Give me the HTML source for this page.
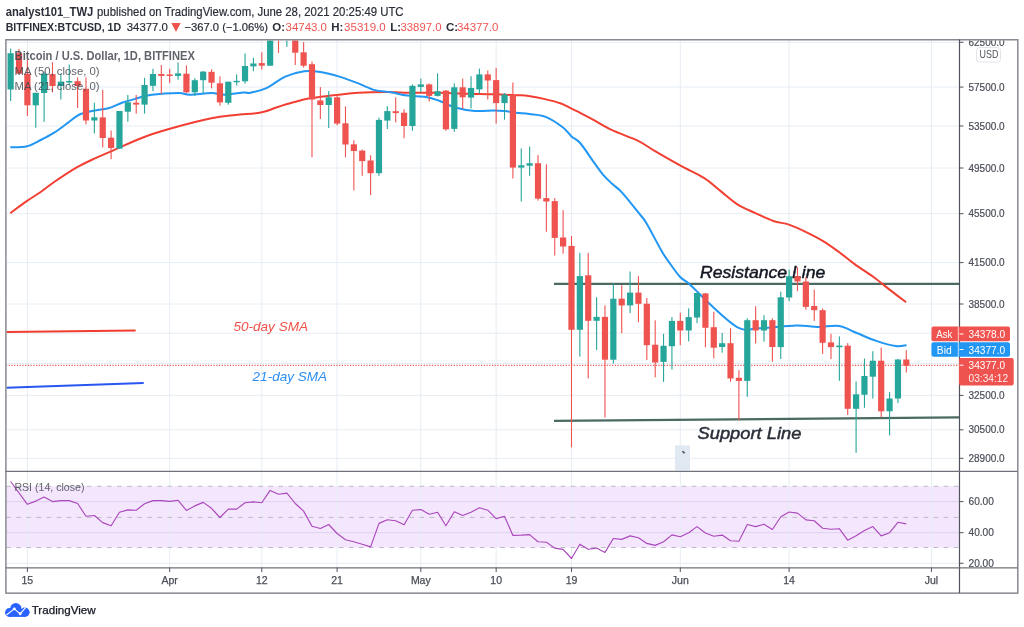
<!DOCTYPE html>
<html><head><meta charset="utf-8"><title>BTCUSD chart</title>
<style>html,body{margin:0;padding:0;background:#fff;width:1024px;height:627px;overflow:hidden;position:relative;font-family:"Liberation Sans",sans-serif;}</style>
</head><body>
<svg width="1024" height="627" viewBox="0 0 1024 627" style="position:absolute;left:0;top:0;will-change:transform;font-family:'Liberation Sans',sans-serif">
<defs><clipPath id="main"><rect x="6.5" y="40.5" width="952.5" height="430.3"/></clipPath><clipPath id="rsi"><rect x="6.5" y="472" width="952.5" height="95"/></clipPath><clipPath id="axis"><rect x="960" y="40.5" width="57" height="530"/></clipPath></defs>
<rect x="0" y="0" width="1024" height="627" fill="#ffffff"/>
<rect x="6" y="486.3" width="953" height="61.2" fill="#f4e7fd"/>
<line x1="6" y1="42.3" x2="959" y2="42.3" stroke="#e6edf4" stroke-width="1"/>
<line x1="6" y1="87.1" x2="959" y2="87.1" stroke="#e6edf4" stroke-width="1"/>
<line x1="6" y1="126.0" x2="959" y2="126.0" stroke="#e6edf4" stroke-width="1"/>
<line x1="6" y1="168.0" x2="959" y2="168.0" stroke="#e6edf4" stroke-width="1"/>
<line x1="6" y1="213.7" x2="959" y2="213.7" stroke="#e6edf4" stroke-width="1"/>
<line x1="6" y1="262.6" x2="959" y2="262.6" stroke="#e6edf4" stroke-width="1"/>
<line x1="6" y1="304.0" x2="959" y2="304.0" stroke="#e6edf4" stroke-width="1"/>
<line x1="6" y1="333.2" x2="959" y2="333.2" stroke="#e6edf4" stroke-width="1"/>
<line x1="6" y1="363.6" x2="959" y2="363.6" stroke="#e6edf4" stroke-width="1"/>
<line x1="6" y1="395.4" x2="959" y2="395.4" stroke="#e6edf4" stroke-width="1"/>
<line x1="6" y1="429.8" x2="959" y2="429.8" stroke="#e6edf4" stroke-width="1"/>
<line x1="6" y1="458.3" x2="959" y2="458.3" stroke="#e6edf4" stroke-width="1"/>
<line x1="6" y1="501.6" x2="959" y2="501.6" stroke="#e2d4f3" stroke-width="1.2"/>
<line x1="6" y1="532.7" x2="959" y2="532.7" stroke="#e2d4f3" stroke-width="1.2"/>
<line x1="6" y1="563.3" x2="959" y2="563.3" stroke="#e6edf4" stroke-width="1"/>
<line x1="27.39" y1="40" x2="27.39" y2="567.5" stroke="#e6edf4" stroke-width="1"/>
<line x1="169.69" y1="40" x2="169.69" y2="567.5" stroke="#e6edf4" stroke-width="1"/>
<line x1="261.77" y1="40" x2="261.77" y2="567.5" stroke="#e6edf4" stroke-width="1"/>
<line x1="337.11" y1="40" x2="337.11" y2="567.5" stroke="#e6edf4" stroke-width="1"/>
<line x1="420.81" y1="40" x2="420.81" y2="567.5" stroke="#e6edf4" stroke-width="1"/>
<line x1="496.15" y1="40" x2="496.15" y2="567.5" stroke="#e6edf4" stroke-width="1"/>
<line x1="571.49" y1="40" x2="571.49" y2="567.5" stroke="#e6edf4" stroke-width="1"/>
<line x1="680.3" y1="40" x2="680.3" y2="567.5" stroke="#e6edf4" stroke-width="1"/>
<line x1="789.12" y1="40" x2="789.12" y2="567.5" stroke="#e6edf4" stroke-width="1"/>
<line x1="931.43" y1="40" x2="931.43" y2="567.5" stroke="#e6edf4" stroke-width="1"/>
<line x1="6.2" y1="486.3" x2="959" y2="486.3" stroke="#bdb9c6" stroke-width="1" stroke-dasharray="4.7,5.38"/>
<line x1="6.2" y1="517.4" x2="959" y2="517.4" stroke="#bdb9c6" stroke-width="1" stroke-dasharray="4.7,5.38"/>
<line x1="6.2" y1="547.5" x2="959" y2="547.5" stroke="#bdb9c6" stroke-width="1" stroke-dasharray="4.7,5.38"/>
<g clip-path="url(#main)">
<line x1="6" y1="331.9" x2="135.6" y2="330.6" stroke="#f23c2e" stroke-width="2"/>
<line x1="6" y1="387.7" x2="143.7" y2="383" stroke="#2756f0" stroke-width="2"/>
<text x="233.4" y="330.7" font-size="13" font-style="italic" fill="#f0514a" textLength="74.7" lengthAdjust="spacingAndGlyphs">50-day SMA</text>
<text x="252.6" y="380.9" font-size="13" font-style="italic" fill="#2b8ff0" textLength="74.4" lengthAdjust="spacingAndGlyphs">21-day SMA</text>
<text x="700" y="278.4" font-size="17" font-style="italic" fill="#131722" stroke="#131722" stroke-width="0.45" textLength="125.4" lengthAdjust="spacingAndGlyphs">Resistance Line</text>
<text x="697.5" y="438.9" font-size="17" font-style="italic" fill="#2a2e39" stroke="#2a2e39" stroke-width="0.45" textLength="103.9" lengthAdjust="spacingAndGlyphs">Support Line</text>
<line x1="554" y1="283.9" x2="959" y2="283.9" stroke="#4a6a61" stroke-width="2.2"/>
<line x1="554" y1="420.9" x2="959" y2="417.4" stroke="#4a6a61" stroke-width="2.2"/>
<line x1="6" y1="365.4" x2="959" y2="365.4" stroke="#ef5350" stroke-width="1.1" stroke-dasharray="1.2,1.53"/>
<rect x="675" y="445.5" width="15" height="25" fill="#e0e8f1"/>
<path d="M682.3,451.5 l1.6,0.6 l0.2,1.4" stroke="#222" stroke-width="1.2" fill="none"/>
<path d="M10.30,213.10 C13.10,211.07 22.03,204.42 27.10,200.90 C32.17,197.38 36.18,195.15 40.70,192.00 C45.22,188.85 48.33,186.02 54.20,182.00 C60.07,177.98 69.12,171.83 75.90,167.90 C82.68,163.97 88.13,161.57 94.90,158.40 C101.67,155.23 108.38,152.43 116.50,148.90 C124.62,145.37 134.12,140.72 143.60,137.20 C153.08,133.68 162.10,130.95 173.40,127.80 C184.70,124.65 201.00,120.43 211.40,118.30 C221.80,116.17 227.57,115.95 235.80,115.00 C244.03,114.05 253.92,113.90 260.80,112.60 C267.68,111.30 271.67,108.92 277.10,107.20 C282.53,105.48 287.98,103.78 293.40,102.30 C298.82,100.82 303.28,99.42 309.60,98.30 C315.92,97.18 323.17,96.52 331.30,95.60 C339.43,94.68 349.37,93.40 358.40,92.80 C367.43,92.20 376.47,92.00 385.50,92.00 C394.53,92.00 403.57,92.67 412.60,92.80 C421.63,92.93 430.67,92.65 439.70,92.80 C448.73,92.95 457.77,93.47 466.80,93.70 C475.83,93.93 485.67,93.95 493.90,94.20 C502.13,94.45 510.43,94.92 516.20,95.20 C521.97,95.48 523.68,95.25 528.50,95.90 C533.32,96.55 539.68,97.83 545.10,99.10 C550.52,100.37 556.60,101.90 561.00,103.50 C565.40,105.10 568.28,107.15 571.50,108.70 C574.72,110.25 576.72,110.98 580.30,112.80 C583.88,114.62 587.70,116.70 593.00,119.60 C598.30,122.50 604.65,126.70 612.10,130.20 C619.55,133.70 630.68,137.20 637.70,140.60 C644.72,144.00 647.07,146.43 654.20,150.60 C661.33,154.77 672.22,161.05 680.50,165.60 C688.78,170.15 697.20,173.65 703.90,177.90 C710.60,182.15 715.12,186.70 720.70,191.10 C726.28,195.50 731.62,200.63 737.40,204.30 C743.18,207.97 749.42,210.32 755.40,213.10 C761.38,215.88 767.72,219.08 773.30,221.00 C778.88,222.92 783.52,222.80 788.90,224.60 C794.28,226.40 799.83,229.02 805.60,231.80 C811.37,234.58 817.93,237.93 823.50,241.30 C829.07,244.67 833.82,248.20 839.00,252.00 C844.18,255.80 848.80,259.90 854.60,264.10 C860.40,268.30 867.82,272.82 873.80,277.20 C879.78,281.58 885.12,286.22 890.50,290.40 C895.88,294.58 903.50,300.32 906.10,302.30" fill="none" stroke="#f23f33" stroke-width="2" stroke-linejoin="round"/>
<path d="M10.30,147.30 C13.10,147.12 22.03,147.42 27.10,146.20 C32.17,144.98 36.18,142.27 40.70,140.00 C45.22,137.73 49.68,135.45 54.20,132.60 C58.72,129.75 63.73,125.83 67.80,122.90 C71.87,119.97 74.55,116.98 78.60,115.00 C82.65,113.02 87.13,112.13 92.10,111.00 C97.07,109.87 103.42,109.57 108.40,108.20 C113.38,106.83 117.48,104.37 122.00,102.80 C126.52,101.23 130.53,100.15 135.50,98.80 C140.47,97.45 144.57,95.65 151.80,94.70 C159.03,93.75 172.58,93.10 178.90,93.10 C185.22,93.10 184.28,94.70 189.70,94.70 C195.12,94.70 205.53,93.10 211.40,93.10 C217.27,93.10 219.48,94.80 224.90,94.70 C230.32,94.60 239.72,92.82 243.90,92.50 C248.08,92.18 246.27,93.52 250.00,92.80 C253.73,92.08 260.43,90.90 266.30,88.20 C272.17,85.50 278.88,79.43 285.20,76.60 C291.52,73.77 298.32,71.97 304.20,71.20 C310.08,70.43 314.63,71.10 320.50,72.00 C326.37,72.90 333.08,74.70 339.40,76.60 C345.72,78.50 352.52,81.15 358.40,83.40 C364.28,85.65 369.28,88.62 374.70,90.10 C380.12,91.58 385.48,91.38 390.90,92.30 C396.32,93.22 401.32,94.83 407.20,95.60 C413.08,96.37 420.78,96.00 426.20,96.90 C431.62,97.80 434.73,99.18 439.70,101.00 C444.67,102.82 450.13,106.13 456.00,107.80 C461.87,109.47 468.58,110.55 474.90,111.00 C481.22,111.45 488.93,110.50 493.90,110.50 C498.87,110.50 500.98,110.62 504.70,111.00 C508.42,111.38 512.10,112.30 516.20,112.80 C520.30,113.30 524.48,113.37 529.30,114.00 C534.12,114.63 539.53,114.40 545.10,116.60 C550.67,118.80 558.30,123.90 562.70,127.20 C567.10,130.50 568.58,133.77 571.50,136.40 C574.42,139.03 576.37,138.53 580.20,143.00 C584.03,147.47 590.67,157.88 594.50,163.20 C598.33,168.52 600.27,171.47 603.20,174.90 C606.13,178.33 608.92,180.82 612.10,183.80 C615.28,186.78 617.83,187.90 622.30,192.80 C626.77,197.70 634.85,208.10 638.90,213.20 C642.95,218.30 642.77,217.02 646.60,223.40 C650.43,229.78 658.07,244.90 661.90,251.50 C665.73,258.10 666.60,258.80 669.60,263.00 C672.60,267.20 676.72,273.30 679.90,276.70 C683.08,280.10 685.37,280.48 688.70,283.40 C692.03,286.32 696.72,291.07 699.90,294.20 C703.08,297.33 701.43,296.63 707.80,302.20 C714.17,307.77 729.57,323.25 738.10,327.60 C746.63,331.95 749.32,328.63 759.00,328.30 C768.68,327.97 786.42,325.82 796.20,325.60 C805.98,325.38 810.55,326.93 817.70,327.00 C824.85,327.07 832.60,325.00 839.10,326.00 C845.60,327.00 850.50,330.52 856.70,333.00 C862.90,335.48 869.78,338.72 876.30,340.90 C882.82,343.08 890.77,345.38 895.80,346.10 C900.83,346.82 904.72,345.35 906.50,345.20" fill="none" stroke="#2196f3" stroke-width="2" stroke-linejoin="round"/>
<rect x="10.10" y="48.6" width="1.1" height="52.4" fill="#26a69a"/>
<rect x="7.55" y="53.2" width="6.2" height="36.3" fill="#26a69a"/>
<rect x="18.47" y="48.9" width="1.1" height="25.1" fill="#ef5350"/>
<rect x="15.92" y="53.2" width="6.2" height="20.5" fill="#ef5350"/>
<rect x="26.84" y="60.0" width="1.1" height="56.0" fill="#ef5350"/>
<rect x="24.29" y="73.7" width="6.2" height="31.6" fill="#ef5350"/>
<rect x="35.21" y="92.8" width="1.1" height="35.0" fill="#26a69a"/>
<rect x="32.66" y="92.8" width="6.2" height="12.5" fill="#26a69a"/>
<rect x="43.58" y="71.6" width="1.1" height="50.2" fill="#26a69a"/>
<rect x="41.03" y="73.7" width="6.2" height="19.3" fill="#26a69a"/>
<rect x="51.95" y="62.2" width="1.1" height="30.2" fill="#ef5350"/>
<rect x="49.40" y="74.1" width="6.2" height="11.9" fill="#ef5350"/>
<rect x="60.32" y="73.7" width="1.1" height="25.8" fill="#26a69a"/>
<rect x="57.77" y="81.6" width="6.2" height="4.4" fill="#26a69a"/>
<rect x="68.69" y="64.5" width="1.1" height="20.5" fill="#26a69a"/>
<rect x="66.14" y="81.0" width="6.2" height="1.5" fill="#26a69a"/>
<rect x="77.06" y="77.4" width="1.1" height="30.6" fill="#ef5350"/>
<rect x="74.51" y="81.2" width="6.2" height="4.8" fill="#ef5350"/>
<rect x="85.43" y="77.4" width="1.1" height="46.9" fill="#ef5350"/>
<rect x="82.88" y="88.8" width="6.2" height="31.7" fill="#ef5350"/>
<rect x="93.81" y="102.7" width="1.1" height="30.8" fill="#26a69a"/>
<rect x="91.26" y="117.3" width="6.2" height="3.2" fill="#26a69a"/>
<rect x="102.18" y="89.8" width="1.1" height="57.5" fill="#ef5350"/>
<rect x="99.63" y="117.4" width="6.2" height="20.6" fill="#ef5350"/>
<rect x="110.55" y="130.5" width="1.1" height="28.7" fill="#ef5350"/>
<rect x="108.00" y="137.7" width="6.2" height="10.3" fill="#ef5350"/>
<rect x="118.92" y="111.0" width="1.1" height="37.7" fill="#26a69a"/>
<rect x="116.37" y="111.0" width="6.2" height="37.7" fill="#26a69a"/>
<rect x="127.29" y="95.0" width="1.1" height="26.8" fill="#26a69a"/>
<rect x="124.74" y="102.3" width="6.2" height="9.4" fill="#26a69a"/>
<rect x="135.66" y="95.0" width="1.1" height="18.6" fill="#ef5350"/>
<rect x="133.11" y="102.7" width="6.2" height="1.9" fill="#ef5350"/>
<rect x="144.03" y="77.8" width="1.1" height="35.8" fill="#26a69a"/>
<rect x="141.48" y="85.0" width="6.2" height="19.6" fill="#26a69a"/>
<rect x="152.40" y="68.8" width="1.1" height="22.4" fill="#26a69a"/>
<rect x="149.85" y="74.0" width="6.2" height="11.8" fill="#26a69a"/>
<rect x="160.77" y="65.0" width="1.1" height="29.0" fill="#ef5350"/>
<rect x="158.22" y="74.0" width="6.2" height="1.9" fill="#ef5350"/>
<rect x="169.14" y="68.8" width="1.1" height="14.2" fill="#ef5350"/>
<rect x="166.59" y="74.5" width="6.2" height="1.5" fill="#ef5350"/>
<rect x="177.51" y="62.5" width="1.1" height="17.2" fill="#26a69a"/>
<rect x="174.96" y="73.4" width="6.2" height="2.5" fill="#26a69a"/>
<rect x="185.88" y="65.4" width="1.1" height="27.8" fill="#ef5350"/>
<rect x="183.33" y="73.7" width="6.2" height="18.6" fill="#ef5350"/>
<rect x="194.25" y="78.3" width="1.1" height="17.8" fill="#26a69a"/>
<rect x="191.70" y="80.2" width="6.2" height="12.1" fill="#26a69a"/>
<rect x="202.62" y="71.0" width="1.1" height="22.2" fill="#26a69a"/>
<rect x="200.07" y="71.6" width="6.2" height="8.6" fill="#26a69a"/>
<rect x="211.00" y="69.3" width="1.1" height="19.1" fill="#ef5350"/>
<rect x="208.45" y="71.8" width="6.2" height="10.9" fill="#ef5350"/>
<rect x="219.37" y="76.4" width="1.1" height="29.3" fill="#ef5350"/>
<rect x="216.82" y="83.3" width="6.2" height="19.1" fill="#ef5350"/>
<rect x="227.74" y="81.7" width="1.1" height="23.0" fill="#26a69a"/>
<rect x="225.19" y="81.7" width="6.2" height="21.1" fill="#26a69a"/>
<rect x="236.11" y="74.4" width="1.1" height="11.2" fill="#26a69a"/>
<rect x="233.56" y="80.8" width="6.2" height="1.5" fill="#26a69a"/>
<rect x="244.48" y="53.4" width="1.1" height="30.2" fill="#26a69a"/>
<rect x="241.93" y="66.0" width="6.2" height="15.3" fill="#26a69a"/>
<rect x="252.85" y="57.8" width="1.1" height="13.4" fill="#26a69a"/>
<rect x="250.30" y="63.5" width="6.2" height="2.9" fill="#26a69a"/>
<rect x="261.22" y="52.3" width="1.1" height="17.2" fill="#ef5350"/>
<rect x="258.67" y="63.1" width="6.2" height="2.6" fill="#ef5350"/>
<rect x="269.59" y="30.0" width="1.1" height="35.7" fill="#26a69a"/>
<rect x="267.04" y="30.0" width="6.2" height="35.7" fill="#26a69a"/>
<rect x="277.96" y="30.0" width="1.1" height="22.9" fill="#ef5350"/>
<rect x="275.41" y="30.0" width="6.2" height="1.5" fill="#ef5350"/>
<rect x="286.33" y="30.0" width="1.1" height="16.8" fill="#26a69a"/>
<rect x="283.78" y="30.0" width="6.2" height="1.5" fill="#26a69a"/>
<rect x="294.70" y="30.0" width="1.1" height="35.0" fill="#ef5350"/>
<rect x="292.15" y="30.0" width="6.2" height="22.7" fill="#ef5350"/>
<rect x="303.07" y="42.1" width="1.1" height="25.5" fill="#ef5350"/>
<rect x="300.52" y="52.3" width="6.2" height="13.4" fill="#ef5350"/>
<rect x="311.44" y="61.5" width="1.1" height="95.8" fill="#ef5350"/>
<rect x="308.89" y="64.2" width="6.2" height="35.3" fill="#ef5350"/>
<rect x="319.81" y="87.1" width="1.1" height="31.9" fill="#ef5350"/>
<rect x="317.26" y="100.4" width="6.2" height="4.6" fill="#ef5350"/>
<rect x="328.19" y="91.0" width="1.1" height="37.0" fill="#26a69a"/>
<rect x="325.64" y="97.3" width="6.2" height="7.7" fill="#26a69a"/>
<rect x="336.56" y="96.0" width="1.1" height="29.3" fill="#ef5350"/>
<rect x="334.01" y="97.3" width="6.2" height="26.3" fill="#ef5350"/>
<rect x="344.93" y="106.4" width="1.1" height="50.9" fill="#ef5350"/>
<rect x="342.38" y="123.3" width="6.2" height="21.2" fill="#ef5350"/>
<rect x="353.30" y="140.3" width="1.1" height="50.1" fill="#ef5350"/>
<rect x="350.75" y="144.3" width="6.2" height="6.7" fill="#ef5350"/>
<rect x="361.67" y="149.6" width="1.1" height="26.2" fill="#ef5350"/>
<rect x="359.12" y="150.6" width="6.2" height="10.5" fill="#ef5350"/>
<rect x="370.04" y="155.3" width="1.1" height="39.7" fill="#ef5350"/>
<rect x="367.49" y="160.5" width="6.2" height="12.7" fill="#ef5350"/>
<rect x="378.41" y="117.6" width="1.1" height="58.2" fill="#26a69a"/>
<rect x="375.86" y="119.9" width="6.2" height="53.3" fill="#26a69a"/>
<rect x="386.78" y="106.2" width="1.1" height="22.8" fill="#26a69a"/>
<rect x="384.23" y="111.1" width="6.2" height="9.5" fill="#26a69a"/>
<rect x="395.15" y="97.3" width="1.1" height="25.1" fill="#ef5350"/>
<rect x="392.60" y="111.2" width="6.2" height="1.9" fill="#ef5350"/>
<rect x="403.52" y="109.2" width="1.1" height="29.0" fill="#ef5350"/>
<rect x="400.97" y="112.7" width="6.2" height="13.3" fill="#ef5350"/>
<rect x="411.89" y="84.4" width="1.1" height="46.4" fill="#26a69a"/>
<rect x="409.34" y="85.8" width="6.2" height="40.2" fill="#26a69a"/>
<rect x="420.26" y="78.7" width="1.1" height="13.6" fill="#26a69a"/>
<rect x="417.71" y="84.4" width="6.2" height="2.5" fill="#26a69a"/>
<rect x="428.63" y="83.4" width="1.1" height="18.2" fill="#ef5350"/>
<rect x="426.08" y="84.4" width="6.2" height="11.5" fill="#ef5350"/>
<rect x="437.00" y="73.4" width="1.1" height="23.2" fill="#26a69a"/>
<rect x="434.45" y="91.2" width="6.2" height="4.7" fill="#26a69a"/>
<rect x="445.37" y="90.0" width="1.1" height="40.8" fill="#ef5350"/>
<rect x="442.82" y="90.6" width="6.2" height="38.7" fill="#ef5350"/>
<rect x="453.75" y="83.4" width="1.1" height="48.4" fill="#26a69a"/>
<rect x="451.20" y="87.3" width="6.2" height="41.6" fill="#26a69a"/>
<rect x="462.12" y="78.7" width="1.1" height="30.1" fill="#ef5350"/>
<rect x="459.57" y="87.3" width="6.2" height="10.0" fill="#ef5350"/>
<rect x="470.49" y="76.2" width="1.1" height="32.2" fill="#26a69a"/>
<rect x="467.94" y="88.0" width="6.2" height="9.6" fill="#26a69a"/>
<rect x="478.86" y="68.6" width="1.1" height="24.9" fill="#26a69a"/>
<rect x="476.31" y="74.4" width="6.2" height="15.0" fill="#26a69a"/>
<rect x="487.23" y="70.5" width="1.1" height="29.0" fill="#ef5350"/>
<rect x="484.68" y="74.4" width="6.2" height="6.1" fill="#ef5350"/>
<rect x="495.60" y="67.9" width="1.1" height="55.7" fill="#ef5350"/>
<rect x="493.05" y="80.1" width="6.2" height="23.0" fill="#ef5350"/>
<rect x="503.97" y="93.0" width="1.1" height="26.7" fill="#26a69a"/>
<rect x="501.42" y="94.5" width="6.2" height="8.6" fill="#26a69a"/>
<rect x="512.34" y="82.5" width="1.1" height="96.0" fill="#ef5350"/>
<rect x="509.79" y="94.9" width="6.2" height="72.7" fill="#ef5350"/>
<rect x="520.71" y="148.4" width="1.1" height="53.1" fill="#26a69a"/>
<rect x="518.16" y="165.3" width="6.2" height="2.3" fill="#26a69a"/>
<rect x="529.08" y="146.5" width="1.1" height="29.3" fill="#26a69a"/>
<rect x="526.53" y="163.2" width="6.2" height="2.5" fill="#26a69a"/>
<rect x="537.45" y="155.1" width="1.1" height="45.5" fill="#ef5350"/>
<rect x="534.90" y="163.2" width="6.2" height="35.5" fill="#ef5350"/>
<rect x="545.82" y="164.3" width="1.1" height="67.5" fill="#ef5350"/>
<rect x="543.27" y="198.1" width="6.2" height="3.4" fill="#ef5350"/>
<rect x="554.19" y="198.1" width="1.1" height="57.4" fill="#ef5350"/>
<rect x="551.64" y="201.1" width="6.2" height="36.8" fill="#ef5350"/>
<rect x="562.56" y="210.1" width="1.1" height="43.5" fill="#ef5350"/>
<rect x="560.01" y="237.5" width="6.2" height="9.0" fill="#ef5350"/>
<rect x="570.94" y="236.0" width="1.1" height="211.3" fill="#ef5350"/>
<rect x="568.39" y="245.9" width="6.2" height="83.9" fill="#ef5350"/>
<rect x="579.31" y="252.8" width="1.1" height="103.8" fill="#26a69a"/>
<rect x="576.76" y="276.1" width="6.2" height="53.7" fill="#26a69a"/>
<rect x="587.68" y="252.8" width="1.1" height="125.5" fill="#ef5350"/>
<rect x="585.13" y="275.3" width="6.2" height="45.5" fill="#ef5350"/>
<rect x="596.05" y="297.2" width="1.1" height="52.9" fill="#26a69a"/>
<rect x="593.50" y="316.9" width="6.2" height="3.9" fill="#26a69a"/>
<rect x="604.42" y="305.4" width="1.1" height="112.2" fill="#ef5350"/>
<rect x="601.87" y="316.9" width="6.2" height="42.8" fill="#ef5350"/>
<rect x="612.79" y="283.4" width="1.1" height="80.1" fill="#26a69a"/>
<rect x="610.24" y="298.7" width="6.2" height="61.0" fill="#26a69a"/>
<rect x="621.16" y="285.3" width="1.1" height="47.9" fill="#ef5350"/>
<rect x="618.61" y="298.7" width="6.2" height="6.7" fill="#ef5350"/>
<rect x="629.53" y="271.5" width="1.1" height="41.6" fill="#26a69a"/>
<rect x="626.98" y="292.6" width="6.2" height="12.8" fill="#26a69a"/>
<rect x="637.90" y="276.2" width="1.1" height="46.0" fill="#ef5350"/>
<rect x="635.35" y="292.6" width="6.2" height="11.2" fill="#ef5350"/>
<rect x="646.27" y="297.9" width="1.1" height="62.1" fill="#ef5350"/>
<rect x="643.72" y="303.7" width="6.2" height="41.5" fill="#ef5350"/>
<rect x="654.64" y="320.3" width="1.1" height="57.0" fill="#ef5350"/>
<rect x="652.09" y="344.7" width="6.2" height="17.8" fill="#ef5350"/>
<rect x="663.01" y="333.8" width="1.1" height="48.1" fill="#26a69a"/>
<rect x="660.46" y="345.8" width="6.2" height="16.1" fill="#26a69a"/>
<rect x="671.38" y="317.1" width="1.1" height="52.4" fill="#26a69a"/>
<rect x="668.83" y="320.9" width="6.2" height="25.3" fill="#26a69a"/>
<rect x="679.75" y="312.7" width="1.1" height="32.5" fill="#ef5350"/>
<rect x="677.20" y="320.9" width="6.2" height="9.6" fill="#ef5350"/>
<rect x="688.13" y="308.3" width="1.1" height="33.1" fill="#26a69a"/>
<rect x="685.58" y="317.1" width="6.2" height="13.4" fill="#26a69a"/>
<rect x="696.50" y="292.6" width="1.1" height="30.6" fill="#26a69a"/>
<rect x="693.95" y="293.0" width="6.2" height="24.5" fill="#26a69a"/>
<rect x="704.87" y="293.0" width="1.1" height="54.3" fill="#ef5350"/>
<rect x="702.32" y="293.4" width="6.2" height="34.4" fill="#ef5350"/>
<rect x="713.24" y="311.8" width="1.1" height="46.5" fill="#ef5350"/>
<rect x="710.69" y="327.2" width="6.2" height="20.5" fill="#ef5350"/>
<rect x="721.61" y="333.0" width="1.1" height="19.7" fill="#26a69a"/>
<rect x="719.06" y="343.2" width="6.2" height="3.8" fill="#26a69a"/>
<rect x="729.98" y="328.2" width="1.1" height="53.7" fill="#ef5350"/>
<rect x="727.43" y="343.2" width="6.2" height="35.3" fill="#ef5350"/>
<rect x="738.35" y="370.2" width="1.1" height="50.1" fill="#ef5350"/>
<rect x="735.80" y="377.8" width="6.2" height="3.1" fill="#ef5350"/>
<rect x="746.72" y="318.3" width="1.1" height="78.4" fill="#26a69a"/>
<rect x="744.17" y="320.2" width="6.2" height="60.7" fill="#26a69a"/>
<rect x="755.09" y="306.2" width="1.1" height="37.3" fill="#ef5350"/>
<rect x="752.54" y="320.2" width="6.2" height="10.3" fill="#ef5350"/>
<rect x="763.46" y="315.2" width="1.1" height="26.4" fill="#26a69a"/>
<rect x="760.91" y="320.2" width="6.2" height="10.3" fill="#26a69a"/>
<rect x="771.83" y="318.3" width="1.1" height="43.4" fill="#ef5350"/>
<rect x="769.28" y="320.2" width="6.2" height="26.8" fill="#ef5350"/>
<rect x="780.20" y="291.7" width="1.1" height="67.3" fill="#26a69a"/>
<rect x="777.65" y="297.3" width="6.2" height="49.8" fill="#26a69a"/>
<rect x="788.57" y="269.6" width="1.1" height="31.6" fill="#26a69a"/>
<rect x="786.02" y="276.2" width="6.2" height="21.3" fill="#26a69a"/>
<rect x="796.94" y="267.3" width="1.1" height="23.7" fill="#ef5350"/>
<rect x="794.39" y="276.3" width="6.2" height="5.2" fill="#ef5350"/>
<rect x="805.32" y="277.2" width="1.1" height="32.6" fill="#ef5350"/>
<rect x="802.77" y="281.5" width="6.2" height="25.4" fill="#ef5350"/>
<rect x="813.69" y="289.7" width="1.1" height="31.2" fill="#ef5350"/>
<rect x="811.14" y="306.0" width="6.2" height="4.2" fill="#ef5350"/>
<rect x="822.06" y="308.3" width="1.1" height="45.6" fill="#ef5350"/>
<rect x="819.51" y="310.2" width="6.2" height="32.6" fill="#ef5350"/>
<rect x="830.43" y="333.8" width="1.1" height="25.3" fill="#ef5350"/>
<rect x="827.88" y="342.4" width="6.2" height="4.7" fill="#ef5350"/>
<rect x="838.80" y="336.4" width="1.1" height="44.4" fill="#26a69a"/>
<rect x="836.25" y="345.6" width="6.2" height="1.6" fill="#26a69a"/>
<rect x="847.17" y="343.1" width="1.1" height="72.0" fill="#ef5350"/>
<rect x="844.62" y="345.7" width="6.2" height="63.1" fill="#ef5350"/>
<rect x="855.54" y="381.5" width="1.1" height="71.3" fill="#26a69a"/>
<rect x="852.99" y="394.3" width="6.2" height="14.5" fill="#26a69a"/>
<rect x="863.91" y="358.6" width="1.1" height="49.2" fill="#26a69a"/>
<rect x="861.36" y="376.0" width="6.2" height="18.7" fill="#26a69a"/>
<rect x="872.28" y="351.2" width="1.1" height="47.3" fill="#26a69a"/>
<rect x="869.73" y="360.7" width="6.2" height="16.0" fill="#26a69a"/>
<rect x="880.65" y="347.6" width="1.1" height="69.5" fill="#ef5350"/>
<rect x="878.10" y="360.7" width="6.2" height="50.6" fill="#ef5350"/>
<rect x="889.02" y="392.2" width="1.1" height="43.2" fill="#26a69a"/>
<rect x="886.47" y="398.5" width="6.2" height="12.8" fill="#26a69a"/>
<rect x="897.39" y="359.0" width="1.1" height="44.0" fill="#26a69a"/>
<rect x="894.84" y="359.5" width="6.2" height="39.0" fill="#26a69a"/>
<rect x="905.76" y="350.3" width="1.1" height="22.2" fill="#ef5350"/>
<rect x="903.21" y="359.5" width="6.2" height="6.2" fill="#ef5350"/>
<text x="14.6" y="59.5" font-size="12.5" font-weight="bold" fill="#3f424c" fill-opacity="0.82" textLength="180.3" lengthAdjust="spacingAndGlyphs">Bitcoin / U.S. Dollar, 1D, BITFINEX</text>
<text x="14.6" y="75.2" font-size="11.5" fill="#3f424c" fill-opacity="0.82" textLength="85" lengthAdjust="spacingAndGlyphs">MA (50, close, 0)</text>
<text x="14.6" y="90.4" font-size="11.5" fill="#3f424c" fill-opacity="0.82" textLength="85" lengthAdjust="spacingAndGlyphs">MA (21, close, 0)</text>
</g>
<g clip-path="url(#rsi)">
<polyline points="10.6,481.5 27.4,504.3 35.8,501.1 44.1,497.1 52.5,501.6 60.9,500.6 69.2,500.6 77.6,503.5 86.0,516.3 94.4,515.5 102.7,522.6 111.1,525.8 119.5,512.3 127.8,509.9 136.2,510.2 144.6,503.8 153.0,500.6 161.3,500.6 169.7,501.4 178.1,500.3 186.4,510.4 194.8,505.9 203.2,502.4 211.5,508.3 219.9,517.5 228.3,509.1 236.7,509.1 245.0,502.7 253.4,501.9 261.8,502.7 270.1,490.4 278.5,494.2 286.9,493.1 295.3,503.5 303.6,511.1 312.0,526.3 320.4,528.5 328.7,524.5 337.1,533.5 345.5,539.7 353.8,541.8 362.2,544.2 370.6,546.9 379.0,523.4 387.3,519.8 395.7,520.7 404.1,524.7 412.4,510.2 420.8,509.6 429.2,514.2 437.6,512.3 445.9,525.8 454.3,511.8 462.7,515.5 471.0,512.3 479.4,507.8 487.8,510.2 496.1,518.6 504.5,516.3 512.9,535.4 521.3,535.1 529.6,534.6 538.0,541.8 546.4,542.2 554.7,548.1 563.1,549.4 571.5,558.5 579.9,544.2 588.2,549.3 596.6,548.1 605.0,552.4 613.3,538.5 621.7,539.4 630.1,535.9 638.5,537.8 646.8,543.4 655.2,545.4 663.6,541.8 671.9,534.9 680.3,536.7 688.7,532.7 697.0,526.6 705.4,533.0 713.8,536.2 722.2,535.1 730.5,540.7 738.9,541.3 747.3,524.5 755.6,526.6 764.0,524.2 772.4,529.5 780.8,516.7 789.1,512.0 797.5,513.1 805.9,519.9 814.2,520.7 822.6,528.2 831.0,529.3 839.3,528.7 847.7,540.2 856.1,535.7 864.5,530.6 872.8,526.6 881.2,535.9 889.6,532.7 897.9,522.3 906.3,523.9" fill="none" stroke="#ab47bc" stroke-width="1.15" stroke-linejoin="round"/>
<text x="14.4" y="491" font-size="10.5" fill="#3f424c" fill-opacity="0.82" textLength="70.1" lengthAdjust="spacingAndGlyphs">RSI (14, close)</text>
</g>
<rect x="5.9" y="39.75" width="1011.9" height="553.4" fill="none" stroke="#888a92" stroke-width="1.5"/>
<line x1="959.5" y1="39.5" x2="959.5" y2="593" stroke="#50535e" stroke-width="1.2"/>
<line x1="5.5" y1="471.3" x2="1017.5" y2="471.3" stroke="#6f727a" stroke-width="1.2"/>
<line x1="5.5" y1="567.8" x2="1017.5" y2="567.8" stroke="#6f727a" stroke-width="1.2"/>
<g clip-path="url(#axis)">
<line x1="959.5" y1="42.3" x2="963.5" y2="42.3" stroke="#50535e" stroke-width="1"/>
<text x="968.5" y="45.9" font-size="11" fill="#4a4d57" stroke="#4a4d57" stroke-width="0.2" textLength="36.1" lengthAdjust="spacingAndGlyphs">62500.0</text>
<line x1="959.5" y1="87.1" x2="963.5" y2="87.1" stroke="#50535e" stroke-width="1"/>
<text x="968.5" y="90.7" font-size="11" fill="#4a4d57" stroke="#4a4d57" stroke-width="0.2" textLength="36.1" lengthAdjust="spacingAndGlyphs">57500.0</text>
<line x1="959.5" y1="126.0" x2="963.5" y2="126.0" stroke="#50535e" stroke-width="1"/>
<text x="968.5" y="129.6" font-size="11" fill="#4a4d57" stroke="#4a4d57" stroke-width="0.2" textLength="36.1" lengthAdjust="spacingAndGlyphs">53500.0</text>
<line x1="959.5" y1="168.0" x2="963.5" y2="168.0" stroke="#50535e" stroke-width="1"/>
<text x="968.5" y="171.6" font-size="11" fill="#4a4d57" stroke="#4a4d57" stroke-width="0.2" textLength="36.1" lengthAdjust="spacingAndGlyphs">49500.0</text>
<line x1="959.5" y1="213.7" x2="963.5" y2="213.7" stroke="#50535e" stroke-width="1"/>
<text x="968.5" y="217.3" font-size="11" fill="#4a4d57" stroke="#4a4d57" stroke-width="0.2" textLength="36.1" lengthAdjust="spacingAndGlyphs">45500.0</text>
<line x1="959.5" y1="262.6" x2="963.5" y2="262.6" stroke="#50535e" stroke-width="1"/>
<text x="968.5" y="266.2" font-size="11" fill="#4a4d57" stroke="#4a4d57" stroke-width="0.2" textLength="36.1" lengthAdjust="spacingAndGlyphs">41500.0</text>
<line x1="959.5" y1="304.0" x2="963.5" y2="304.0" stroke="#50535e" stroke-width="1"/>
<text x="968.5" y="307.6" font-size="11" fill="#4a4d57" stroke="#4a4d57" stroke-width="0.2" textLength="36.1" lengthAdjust="spacingAndGlyphs">38500.0</text>
<line x1="959.5" y1="395.4" x2="963.5" y2="395.4" stroke="#50535e" stroke-width="1"/>
<text x="968.5" y="399.0" font-size="11" fill="#4a4d57" stroke="#4a4d57" stroke-width="0.2" textLength="36.1" lengthAdjust="spacingAndGlyphs">32500.0</text>
<line x1="959.5" y1="429.8" x2="963.5" y2="429.8" stroke="#50535e" stroke-width="1"/>
<text x="968.5" y="433.4" font-size="11" fill="#4a4d57" stroke="#4a4d57" stroke-width="0.2" textLength="36.1" lengthAdjust="spacingAndGlyphs">30500.0</text>
<line x1="959.5" y1="458.3" x2="963.5" y2="458.3" stroke="#50535e" stroke-width="1"/>
<text x="968.5" y="461.9" font-size="11" fill="#4a4d57" stroke="#4a4d57" stroke-width="0.2" textLength="36.1" lengthAdjust="spacingAndGlyphs">28900.0</text>
</g>
<rect x="976.5" y="47.5" width="24" height="14.5" rx="3" fill="#fff" stroke="#e3e5e8" stroke-width="1"/>
<text x="979.6" y="57.8" font-size="10.5" fill="#50535e" textLength="18.8" lengthAdjust="spacingAndGlyphs">USD</text>
<line x1="959.5" y1="501.6" x2="963.5" y2="501.6" stroke="#50535e" stroke-width="1"/>
<text x="968.5" y="505.2" font-size="11" fill="#4a4d57" stroke="#4a4d57" stroke-width="0.2" textLength="25.4" lengthAdjust="spacingAndGlyphs">60.00</text>
<line x1="959.5" y1="532.7" x2="963.5" y2="532.7" stroke="#50535e" stroke-width="1"/>
<text x="968.5" y="536.3" font-size="11" fill="#4a4d57" stroke="#4a4d57" stroke-width="0.2" textLength="25.4" lengthAdjust="spacingAndGlyphs">40.00</text>
<line x1="959.5" y1="563.3" x2="963.5" y2="563.3" stroke="#50535e" stroke-width="1"/>
<text x="968.5" y="566.9" font-size="11" fill="#4a4d57" stroke="#4a4d57" stroke-width="0.2" textLength="25.4" lengthAdjust="spacingAndGlyphs">20.00</text>
<line x1="27.39" y1="567.6" x2="27.39" y2="572" stroke="#50535e" stroke-width="1"/>
<text x="27.39" y="584" font-size="10.5" fill="#4a4d57" stroke="#4a4d57" stroke-width="0.25" text-anchor="middle">15</text>
<line x1="169.69" y1="567.6" x2="169.69" y2="572" stroke="#50535e" stroke-width="1"/>
<text x="169.69" y="584" font-size="10.5" fill="#4a4d57" stroke="#4a4d57" stroke-width="0.25" text-anchor="middle">Apr</text>
<line x1="261.77" y1="567.6" x2="261.77" y2="572" stroke="#50535e" stroke-width="1"/>
<text x="261.77" y="584" font-size="10.5" fill="#4a4d57" stroke="#4a4d57" stroke-width="0.25" text-anchor="middle">12</text>
<line x1="337.11" y1="567.6" x2="337.11" y2="572" stroke="#50535e" stroke-width="1"/>
<text x="337.11" y="584" font-size="10.5" fill="#4a4d57" stroke="#4a4d57" stroke-width="0.25" text-anchor="middle">21</text>
<line x1="420.81" y1="567.6" x2="420.81" y2="572" stroke="#50535e" stroke-width="1"/>
<text x="420.81" y="584" font-size="10.5" fill="#4a4d57" stroke="#4a4d57" stroke-width="0.25" text-anchor="middle">May</text>
<line x1="496.15" y1="567.6" x2="496.15" y2="572" stroke="#50535e" stroke-width="1"/>
<text x="496.15" y="584" font-size="10.5" fill="#4a4d57" stroke="#4a4d57" stroke-width="0.25" text-anchor="middle">10</text>
<line x1="571.49" y1="567.6" x2="571.49" y2="572" stroke="#50535e" stroke-width="1"/>
<text x="571.49" y="584" font-size="10.5" fill="#4a4d57" stroke="#4a4d57" stroke-width="0.25" text-anchor="middle">19</text>
<line x1="680.3" y1="567.6" x2="680.3" y2="572" stroke="#50535e" stroke-width="1"/>
<text x="680.3" y="584" font-size="10.5" fill="#4a4d57" stroke="#4a4d57" stroke-width="0.25" text-anchor="middle">Jun</text>
<line x1="789.12" y1="567.6" x2="789.12" y2="572" stroke="#50535e" stroke-width="1"/>
<text x="789.12" y="584" font-size="10.5" fill="#4a4d57" stroke="#4a4d57" stroke-width="0.25" text-anchor="middle">14</text>
<line x1="931.43" y1="567.6" x2="931.43" y2="572" stroke="#50535e" stroke-width="1"/>
<text x="931.43" y="584" font-size="10.5" fill="#4a4d57" stroke="#4a4d57" stroke-width="0.25" text-anchor="middle">Jul</text>
<rect x="931.5" y="326.5" width="78.5" height="14.8" rx="2" fill="#ef5350"/>
<rect x="931.5" y="342.3" width="78.5" height="14.5" rx="2" fill="#2196f3"/>
<rect x="959" y="358" width="54.7" height="27.6" rx="2" fill="#ef5350"/>
<line x1="958.3" y1="326.5" x2="958.3" y2="357" stroke="#ffffff" stroke-opacity="0.7" stroke-width="1"/>
<line x1="959.6" y1="334" x2="963.5" y2="334" stroke="#ffffff" stroke-width="1"/>
<line x1="959.6" y1="349.5" x2="963.5" y2="349.5" stroke="#ffffff" stroke-width="1"/>
<line x1="959.6" y1="365.2" x2="963.5" y2="365.2" stroke="#ffffff" stroke-width="1"/>
<text x="936.2" y="337.9" font-size="10.5" fill="#fff" textLength="16.1" lengthAdjust="spacingAndGlyphs">Ask</text>
<text x="968.5" y="337.9" font-size="10.5" fill="#fff" textLength="36.6" lengthAdjust="spacingAndGlyphs">34378.0</text>
<text x="936.8" y="353.5" font-size="10.5" fill="#fff" textLength="15" lengthAdjust="spacingAndGlyphs">Bid</text>
<text x="968.5" y="353.5" font-size="10.5" fill="#fff" textLength="36.6" lengthAdjust="spacingAndGlyphs">34377.0</text>
<text x="968.5" y="369.1" font-size="10.5" fill="#fff" textLength="36.6" lengthAdjust="spacingAndGlyphs">34377.0</text>
<text x="968.5" y="381.6" font-size="10.5" fill="#fff" fill-opacity="0.9" textLength="39.6" lengthAdjust="spacingAndGlyphs">03:34:12</text>
<text x="5.7" y="15.5" font-size="12.5" fill="#2a2e39"><tspan font-weight="bold" textLength="87.6" lengthAdjust="spacingAndGlyphs">analyst101_TWJ</tspan></text>
<text x="97" y="15.5" font-size="12.5" fill="#2a2e39" stroke="#2a2e39" stroke-width="0.2" textLength="306.6" lengthAdjust="spacingAndGlyphs">published on TradingView.com, June 28, 2021 20:25:49 UTC</text>
<text x="5.7" y="31.1" font-size="11.5" font-weight="bold" fill="#2a2e39" textLength="115.5" lengthAdjust="spacingAndGlyphs">BITFINEX:BTCUSD, 1D</text>
<text x="126.8" y="31.1" font-size="11.5" fill="#2a2e39" stroke="#2a2e39" stroke-width="0.2" textLength="41.1" lengthAdjust="spacingAndGlyphs">34377.0</text>
<path d="M171.3,22.9 L180.7,22.9 L176,31.9 Z" fill="#ef5350"/>
<text x="184.5" y="31.1" font-size="11.5" fill="#2a2e39" stroke="#2a2e39" stroke-width="0.2" textLength="83.5" lengthAdjust="spacingAndGlyphs">−367.0 (−1.06%)</text>
<text x="272.3" y="31.1" font-size="11.5" font-weight="bold" fill="#2a2e39">O:</text>
<text x="331.2" y="31.1" font-size="11.5" font-weight="bold" fill="#2a2e39">H:</text>
<text x="390.2" y="31.1" font-size="11.5" font-weight="bold" fill="#2a2e39">L:</text>
<text x="446" y="31.1" font-size="11.5" font-weight="bold" fill="#2a2e39">C:</text>
<text x="285.6" y="31.1" font-size="11.5" fill="#ef5350" textLength="41.3" lengthAdjust="spacingAndGlyphs">34743.0</text>
<text x="344.1" y="31.1" font-size="11.5" fill="#ef5350" textLength="41.6" lengthAdjust="spacingAndGlyphs">35319.0</text>
<text x="400.5" y="31.1" font-size="11.5" fill="#ef5350" textLength="41" lengthAdjust="spacingAndGlyphs">33897.0</text>
<text x="456.9" y="31.1" font-size="11.5" fill="#ef5350" textLength="41.6" lengthAdjust="spacingAndGlyphs">34377.0</text>
<g>
<g fill="#2962ff"><circle cx="9.4" cy="612.5" r="4.4"/><circle cx="15.8" cy="608.7" r="5.7"/><circle cx="24.9" cy="612.2" r="4.7"/><rect x="9.4" y="609" width="15.5" height="7.9"/></g>
<polyline points="6.4,615 14.3,608.9 20.2,613.8 25.8,607.4" fill="none" stroke="#fff" stroke-width="1.1" stroke-linejoin="round"/>
<circle cx="14.3" cy="608.9" r="1.45" fill="#fff"/><circle cx="20.2" cy="613.8" r="1.45" fill="#fff"/>
</g>
<text x="31.7" y="613.6" font-size="11.5" fill="#131722" stroke="#131722" stroke-width="0.25" textLength="64" lengthAdjust="spacingAndGlyphs">TradingView</text>
</svg>
</body></html>
